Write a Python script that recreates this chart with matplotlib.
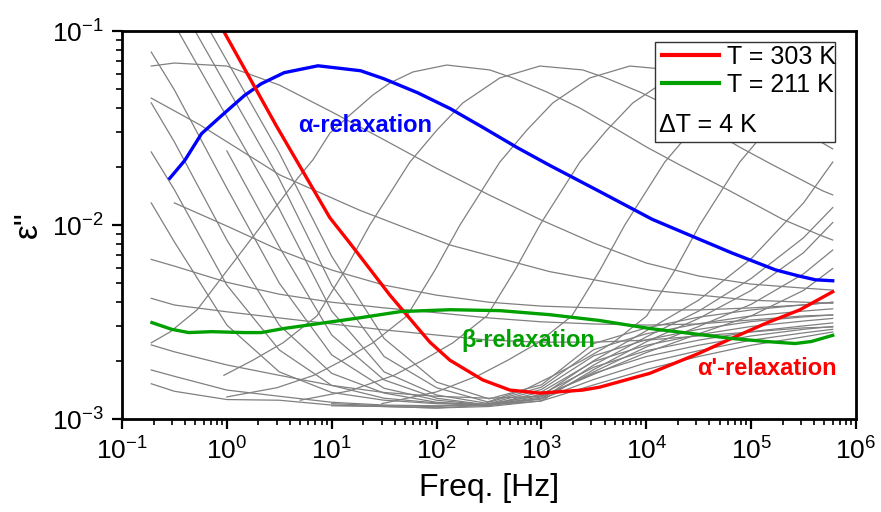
import numpy as np
import matplotlib
matplotlib.use("Agg")
import matplotlib.pyplot as plt
from matplotlib.patches import Rectangle
from matplotlib.ticker import LogLocator, NullFormatter

plt.rcParams["font.family"] = "Liberation Sans"
plt.rcParams["mathtext.default"] = "regular"
plt.rcParams["axes.unicode_minus"] = False

nan = np.nan

# highlighted spectra: frequency [Hz] and eps'' (x1e-3)
f_303 = [0.2, 0.93, 2.94, 9.6, 14.9, 35.9, 86.3, 134, 276, 500, 966, 2480, 3600,
         1.08e4, 3.24e4, 6.68e4, 1.41e5, 2.9e5, 6.0e5]
eps_303 = [420, 100, 32.7, 10.9, 8.07, 4.35, 2.49, 2.01, 1.59, 1.41, 1.36, 1.41, 1.46,
           1.72, 2.19, 2.62, 3.13, 3.65, 4.53]

f_211 = [0.193, 0.298, 0.432, 0.714, 1.47, 2.13, 3.52, 7.40, 18.9, 45.4, 135, 403, 1200, 3580,
         1.07e4, 3.16e4, 6.6e4, 1.38e5, 2.63e5, 3.76e5, 6.0e5]
eps_211 = [3.14, 2.90, 2.79, 2.82, 2.79, 2.79, 2.93, 3.10, 3.33, 3.58, 3.66, 3.62, 3.45, 3.22,
           2.93, 2.73, 2.60, 2.51, 2.45, 2.51, 2.70]

f_alpha = [0.285, 0.396, 0.574, 0.889, 1.47, 2.13, 3.52, 7.40, 18.9, 31.3, 65.8, 135, 278, 585, 1200,
           3580, 1.14e4, 2.56e4, 6.55e4, 1.71e5, 2.82e5, 4.10e5, 6.0e5]
eps_alpha = [17.4, 21.5, 29.6, 36.6, 46.5, 53.5, 61.0, 66.2, 62.4, 56.8, 48.1, 39.8, 31.8, 25.1, 20.3,
             14.9, 10.7, 8.89, 7.18, 5.87, 5.47, 5.22, 5.16]

# loss peaks of the other temperatures (dT = 4 K)
f_a1 = [0.19, 0.316, 1, 3.16, 10, 31.6, 100, 316, 1e3, 3.16e3, 1e4, 3.16e4, 1e5, 3.16e5, 6e5]
eps_a1 = [66.0, 68.4, 66.0, 52.7, 38.3, 27.5, 19.6, 14.3, 10.6, 8.07, 6.37, 5.46, 4.96, 4.73, 4.62]

f_a2 = [0.19, 0.287, 0.519, 4.76, 6.63, 9.62, 14.9, 24.7, 35.9, 59.4, 125, 322, 534, 1127, 2325,
        4797, 1.01e4, 2.09e4, 6.26e4, 2.0e5, 4.51e5, 6e5]
eps_a2 = [2.47, 2.81, 3.65, 17.5, 21.7, 29.8, 36.9, 46.8, 54.0, 61.5, 66.8, 63.0, 57.3, 48.5, 40.1,
          32.0, 25.2, 20.4, 15.0, 10.7, 8.88, 8.37]

f_a3 = [0.937, 1.77, 3.43, 7.23, 13.4, 23.1, 55.6, 101, 178, 401, 966, 2483, 4113, 8670,
        1.79e4, 3.69e4, 7.78e4, 1.61e5, 4.82e5, 6e5]
eps_a3 = [1.68, 2.01, 2.47, 3.40, 5.86, 10.0, 21.1, 30.9, 42.6, 57.3, 66.0, 63.0, 57.3, 48.5,
          40.1, 32.0, 25.2, 20.4, 15.0, 14.3]

f_a4 = [1, 3, 6.76, 12.8, 24.7, 52.1, 96.6, 167, 401, 728, 1283, 2891, 6965, 1.79e4, 2.97e4,
        6.25e4, 1.29e5, 2.66e5, 5.61e5, 6e5]
eps_a4 = [1.30, 1.45, 1.68, 2.01, 2.47, 3.40, 5.86, 10.0, 21.1, 30.9, 42.6, 57.3, 66.0, 63.0, 57.3,
          48.5, 40.1, 32.0, 25.2, 24.7]

f_a5 = [5, 15, 39.2, 74.0, 143, 302, 560, 966, 2324, 4222, 7440, 1.68e4, 4.04e4, 1.04e5,
        1.72e5, 3.62e5, 6e5]
eps_a5 = [1.25, 1.40, 1.68, 2.01, 2.47, 3.40, 5.86, 10.0, 21.1, 30.9, 42.6, 57.3, 66.0, 63.0,
          57.3, 48.5, 43.5]

f_a6 = [30, 100, 253, 478, 926, 1952, 3618, 6237, 1.50e4, 2.73e4, 4.81e4, 1.08e5, 2.61e5, 6e5]
eps_a6 = [1.20, 1.38, 1.68, 2.01, 2.47, 3.40, 5.86, 10.0, 21.1, 30.9, 42.6, 57.3, 66.0, 63.5]

f_a7 = [300, 700, 1312, 2478, 4802, 1.01e4, 1.88e4, 3.23e4, 7.78e4, 1.41e5, 2.49e5, 5.61e5, 6e5]
eps_a7 = [1.22, 1.42, 1.68, 2.01, 2.47, 3.40, 5.86, 10.0, 21.1, 30.9, 42.6, 57.3, 58.5]

# remaining spectra on a common grid
freq = [0.19, 0.316, 1, 3.16, 10, 31.6, 100, 316, 1e3, 3.16e3, 1e4, 3.16e4, 1e5, 3.16e5, 6e5]

eps_b1 = [2.41, 2.22, 1.90, 1.68, 1.49, 1.37, 1.31, 1.28, 1.31, 1.70, 2.20, 2.75, 3.40, 4.60, 5.97]
eps_b2 = [1.79, 1.66, 1.41, 1.31, 1.22, 1.18, 1.17, 1.18, 1.28, 1.75, 2.35, 3.00, 3.90, 5.60, 7.43]
eps_b3 = [1.52, 1.39, 1.26, 1.25, 1.18, 1.16, 1.14, 1.16, 1.24, 1.80, 2.50, 3.30, 4.60, 7.20, 10.3]
eps_b4 = [nan, nan, nan, nan, 1.17, 1.16, 1.14, 1.18, 1.27, 1.90, 2.65, 3.60, 5.30, 8.60, 12.3]
eps_b5 = [nan, nan, nan, nan, 1.20, 1.17, 1.16, 1.20, 1.32, 2.00, 2.85, 4.10, 6.70, 13.0, 21.1]

eps_s1 = [4.19, 3.87, 3.57, 3.32, 3.09, 2.88, 2.71, 2.55, 2.49, 2.49, 2.55, 2.68, 2.81, 2.95, 2.98]
eps_s2 = [6.65, 6.14, 5.07, 4.40, 4.00, 3.74, 3.53, 3.32, 3.17, 3.09, 3.05, 3.09, 3.24, 3.40, 3.44]
eps_s3 = [nan, 13.0, 9.88, 7.43, 5.86, 4.90, 4.35, 4.00, 3.82, 3.74, 3.65, 3.65, 3.74, 3.87, 4.00]

f_s4 = [0.19, 0.555, 3.21, 18.6, 134, 1202, 1.08e4, 9.7e4, 6e5]
eps_s4 = [45.1, 32.8, 18.1, 11.9, 7.89, 5.75, 4.62, 4.10, 3.95]

# high temperatures, conduction at low frequency
eps_c1 = [13.0, 8.18, 3.05, 1.75, 1.37, 1.25, 1.20, 1.18, 1.24, 1.50, 1.80, 2.10, 2.40, 2.65, 2.81]
eps_c2 = [23.8, 15.2, 4.90, 2.27, 1.49, 1.28, 1.21, 1.18, 1.27, 1.60, 1.95, 2.25, 2.55, 2.78, 2.90]
eps_c3 = [42.6, 26.8, 8.37, 3.05, 1.72, 1.36, 1.22, 1.18, 1.30, 1.72, 2.10, 2.40, 2.68, 2.90, 3.00]
eps_c4 = [77.9, 49.7, 15.5, 5.02, 2.14, 1.44, 1.25, 1.18, 1.34, 1.85, 2.25, 2.55, 2.82, 3.02, 3.13]
eps_c5 = [nan, nan, 24.1, 7.72, 2.71, 1.59, 1.28, 1.18, 1.38, 1.98, 2.40, 2.72, 3.00, 3.20, 3.30]
eps_c6 = [174, 108, 36.1, 12.1, 3.6, 1.75, 1.33, 1.20, 1.42, 2.12, 2.56, 2.90, 3.18, 3.36, 3.44]
eps_c7 = [nan, 154, 51.5, 17.3, 4.9, 2.1, 1.45, 1.22, 1.46, 2.28, 2.75, 3.10, 3.40, 3.60, 3.70]
eps_c8 = [nan, 210, 70.3, 23.5, 6.9, 2.6, 1.55, 1.27, 1.50, 2.45, 2.95, 3.35, 3.65, 3.88, 4.00]

own_grid = [(f_a1, eps_a1), (f_a2, eps_a2), (f_a3, eps_a3), (f_a4, eps_a4), (f_a5, eps_a5),
            (f_a6, eps_a6), (f_a7, eps_a7), (f_s4, eps_s4)]
on_grid = [eps_b1, eps_b2, eps_b3, eps_b4, eps_b5, eps_s1, eps_s2, eps_s3,
           eps_c1, eps_c2, eps_c3, eps_c4, eps_c5, eps_c6, eps_c7, eps_c8]

fig = plt.figure(figsize=(8.81, 5.12), dpi=100)
ax = fig.add_axes([0.1385, 0.1816, 0.8331, 0.7578])

for f, e in own_grid:
    ax.plot(f, np.array(e) * 1e-3, color="#808080", lw=0.9)
for e in on_grid:
    ax.plot(freq, np.array(e) * 1e-3, color="#808080", lw=0.9)

ax.plot(f_alpha, np.array(eps_alpha) * 1e-3, color="#0000ff", lw=2.4)
ax.plot(f_303, np.array(eps_303) * 1e-3, color="#ff0000", lw=2.4, label="T = 303 K")
ax.plot(f_211, np.array(eps_211) * 1e-3, color="#00a000", lw=2.4, label="T = 211 K")

ax.set_xscale("log")
ax.set_yscale("log")
ax.set_xlim(0.1, 1e6)
ax.set_ylim(1e-3, 1e-1)

ax.xaxis.set_major_locator(LogLocator(base=10, numticks=20))
ax.xaxis.set_minor_locator(LogLocator(base=10, subs=np.arange(2, 10), numticks=20))
ax.xaxis.set_minor_formatter(NullFormatter())
ax.yaxis.set_minor_locator(LogLocator(base=10, subs=np.arange(2, 10), numticks=20))
ax.yaxis.set_minor_formatter(NullFormatter())

ax.tick_params(which="major", direction="out", length=7, width=1.6, labelsize=19, pad=6)
ax.tick_params(which="minor", direction="out", length=4, width=1.2)
for s in ax.spines.values():
    s.set_linewidth(2.0)

ax.set_xlabel("Freq. [Hz]", fontsize=23, labelpad=6)
ax.set_ylabel('ε"', fontsize=24, labelpad=6)

ax.text(4.77, 0.0327, "α-relaxation", color="#0000ff", fontsize=17, fontweight="bold", va="center")
ax.text(174, 2.55e-3, "β-relaxation", color="#00a000", fontsize=17, fontweight="bold", va="center")
ax.text(3.03e4, 1.83e-3, "α'-relaxation", color="#ff0000", fontsize=17, fontweight="bold", va="center")

# legend box with the extra dT line
ax.add_patch(Rectangle((0.726, 0.714), 0.245, 0.258, transform=ax.transAxes,
                       facecolor="white", edgecolor="#333333", lw=1.0, zorder=5))
leg = ax.legend(loc="upper left", bbox_to_anchor=(0.722, 0.99), frameon=False,
                fontsize=18, handlelength=2.3, handletextpad=0.3, labelspacing=0.15,
                borderaxespad=0)
leg.set_zorder(6)
for ln in leg.get_lines():
    ln.set_linewidth(3)
ax.text(0.731, 0.758, "ΔT = 4 K", transform=ax.transAxes, fontsize=18, va="center", zorder=7)

fig.savefig("out.png", dpi=100)
